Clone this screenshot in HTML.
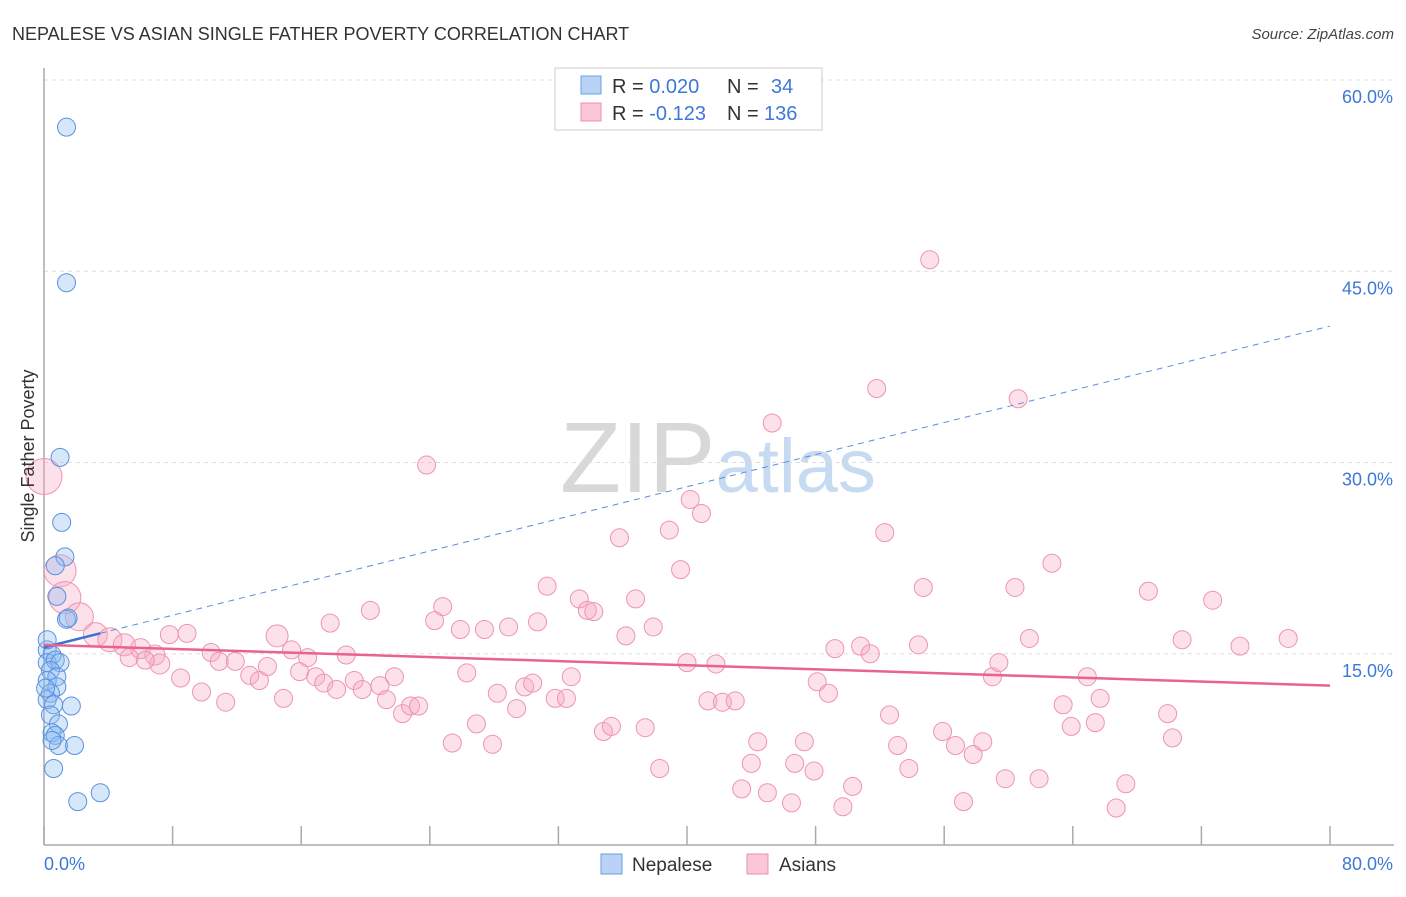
<!DOCTYPE html>
<html><head><meta charset="utf-8">
<style>
body{margin:0;background:#fff;font-family:"Liberation Sans",sans-serif;}
svg text{font-family:"Liberation Sans",sans-serif;}
</style></head>
<body>
<svg id="chart" width="1406" height="892" viewBox="0 0 1406 892" xmlns="http://www.w3.org/2000/svg">
<text x="12" y="40" font-size="18" fill="#333">NEPALESE VS ASIAN SINGLE FATHER POVERTY CORRELATION CHART</text>
<text x="1394" y="39" font-size="15" fill="#444" text-anchor="end" font-style="italic">Source: ZipAtlas.com</text>
<text x="718" y="492" font-size="100" text-anchor="middle" fill="#d8d8d8" font-family="Liberation Serif">ZIP<tspan fill="#c6daf2" font-family="Liberation Sans" font-size="76">atlas</tspan></text>
<g id="grid"></g>
<g id="axes"></g>
<g id="pts"></g>
<g id="trends"></g>
<text transform="translate(34,456) rotate(-90)" font-size="18" fill="#333" text-anchor="middle">Single Father Poverty</text>
<g>
<rect x="555" y="68" width="267" height="62" fill="#fff" stroke="#ccc"/>
<rect x="581" y="76" width="20" height="18" fill="#b9d3f4" stroke="#6a9fe3"/>
<rect x="581" y="103" width="20" height="18" fill="#f9c7d6" stroke="#ec8fae"/>
<text x="612" y="93" font-size="20" fill="#333">R = <tspan fill="#3d78d8">0.020</tspan><tspan x="727">N = </tspan><tspan fill="#3d78d8" x="771">34</tspan></text>
<text x="612" y="120" font-size="20" fill="#333">R = <tspan fill="#3d78d8">-0.123</tspan><tspan x="727">N = </tspan><tspan fill="#3d78d8" x="764">136</tspan></text>
</g>
<g>
<rect x="601" y="854" width="21" height="20" fill="#b9d3f4" stroke="#6a9fe3"/>
<text x="632" y="871" font-size="19" fill="#333">Nepalese</text>
<rect x="747" y="854" width="21" height="20" fill="#f9c7d6" stroke="#ec8fae"/>
<text x="779" y="871" font-size="19" fill="#333">Asians</text>
</g>
</svg>
<script>
const yTicks=[15,30,45,60];
const yTickLabels=["15.0%","30.0%","45.0%","60.0%"];
const xTicks=[0,8,16,24,32,40,48,56,64,72,80];
const xEndLabels=["0.0%","80.0%"];
const blueX=[1.4,1.4,1.0,1.1,1.3,0.7,0.8,1.4,1.5,0.2,0.5,0.2,0.7,1.0,0.4,0.8,0.2,0.8,0.4,0.2,0.6,1.7,0.4,0.9,0.5,0.7,0.9,1.9,0.6,2.1,3.5,0.2,0.1,0.5];
const blueY=[56.3,44.1,30.4,25.3,22.6,21.9,19.5,17.7,17.8,15.3,14.9,14.3,14.5,14.3,13.7,13.2,12.9,12.4,11.9,11.4,11.0,10.9,10.2,9.5,8.8,8.6,7.8,7.8,6.0,3.4,4.1,16.1,12.3,8.2];
const pinkX=[0,1.0,1.3,2.2,3.2,4.1,5.0,6.0,6.9,7.2,5.3,6.3,7.8,8.9,8.5,9.8,11.3,10.4,10.9,11.9,12.8,13.4,13.9,14.5,14.9,15.4,15.9,16.4,16.9,17.4,17.8,18.2,18.8,19.3,19.8,20.3,20.9,21.3,21.8,22.3,22.8,23.3,23.8,24.3,24.8,25.4,25.9,26.3,26.9,27.4,27.9,28.2,28.9,29.4,29.9,30.4,30.7,31.3,31.8,32.5,32.8,33.3,33.8,34.2,34.8,35.3,35.8,36.2,36.8,37.4,37.9,38.3,38.9,39.6,40.0,40.2,40.9,41.3,41.8,42.2,43.0,43.4,44.0,44.4,45.0,45.3,46.5,46.7,47.3,47.9,48.1,48.8,49.2,49.7,50.3,50.8,51.4,51.8,52.3,52.6,53.1,53.8,54.4,54.7,55.1,55.9,56.7,57.2,57.8,58.4,59.0,59.4,59.8,60.4,60.6,61.3,61.9,62.7,63.4,63.9,64.9,65.4,65.7,66.7,67.3,68.7,69.9,70.2,70.8,72.7,74.4,77.4];
const pinkY=[28.9,21.5,19.4,17.9,16.5,16.1,15.7,15.4,14.9,14.2,14.7,14.5,16.5,16.6,13.1,12.0,11.2,15.1,14.4,14.4,13.3,12.9,14.0,16.4,11.5,15.3,13.6,14.7,13.2,12.7,17.4,12.2,14.9,12.9,12.2,18.4,12.5,11.4,13.2,10.3,10.9,10.9,29.8,17.6,18.7,8.0,16.9,13.5,9.5,16.9,7.9,11.9,17.1,10.7,12.4,12.7,17.5,20.3,11.5,11.5,13.2,19.3,18.4,18.3,8.9,9.3,24.1,16.4,19.3,9.2,17.1,6.0,24.7,21.6,14.3,27.1,26.0,11.3,14.2,11.2,11.3,4.4,6.4,8.1,4.1,33.1,3.3,6.4,8.1,5.8,12.8,11.9,15.4,3.0,4.6,15.6,15.0,35.8,24.5,10.2,7.8,6.0,15.7,20.2,45.9,8.9,7.8,3.4,7.1,8.1,13.2,14.3,5.2,20.2,35.0,16.2,5.2,22.1,11.0,9.3,13.2,9.6,11.5,2.9,4.8,19.9,10.3,8.4,16.1,19.2,15.6,16.2];
const pinkWeight=[18,16,16,14,12,12,11,10,10,10,9,9,9,9,9,9,9,9,9,9,9,9,9,11];
const blueTrend=[15.5,40.7];
const pinkTrend=[15.7,12.5];

const X0=44,X1=1330,Y0=845,PXPER=(845-80)/60;
const sx=v=>X0+(v/80)*(X1-X0);
const sy=v=>Y0-v*PXPER;
const NS="http://www.w3.org/2000/svg";
function mk(tag,attrs,parent){const e=document.createElementNS(NS,tag);for(const k in attrs)e.setAttribute(k,attrs[k]);parent.appendChild(e);return e;}
const grid=document.getElementById('grid'),axes=document.getElementById('axes'),pts=document.getElementById('pts'),tr=document.getElementById('trends');
yTicks.forEach((t,i)=>{
  const l=mk('line',{x1:X0,x2:1394,y1:sy(t),y2:sy(t),stroke:'#ddd','stroke-dasharray':'4,4'},grid);
  
  
  const tx=mk('text',{x:1393,y:sy(t)+23,'font-size':18,fill:'#3d78d8','text-anchor':'end'},axes);
  tx.textContent=yTickLabels[i];
  
  
});
const yax=mk('line',{x1:X0,x2:X0,y1:68,y2:Y0,stroke:'#aaa','stroke-width':1.5},axes);


const xax=mk('line',{x1:X0,x2:1394,y1:Y0,y2:Y0,stroke:'#aaa','stroke-width':1.5},axes);


xTicks.forEach(t=>{
  const l=mk('line',{x1:sx(t),x2:sx(t),y1:826,y2:Y0,stroke:'#aaa','stroke-width':1.5},axes);
  
  
});
const xl0=mk('text',{x:44,y:870,'font-size':18,fill:'#3d78d8'},axes);xl0.textContent=xEndLabels[0];


const xl1=mk('text',{x:1393,y:870,'font-size':18,fill:'#3d78d8','text-anchor':'end'},axes);xl1.textContent=xEndLabels[1];


pinkX.forEach((v,i)=>{
  const c=mk('circle',{cx:sx(v),cy:sy(pinkY[i]),r:pinkWeight[i]||9,fill:'rgba(246,170,195,0.35)',stroke:'#ee94b2','stroke-width':1},pts);
  
  
});
blueX.forEach((v,i)=>{
  const c=mk('circle',{cx:sx(v),cy:sy(blueY[i]),r:9,fill:'rgba(140,185,240,0.35)',stroke:'#5a92de','stroke-width':1},pts);
  
  
});
const bAt=x=>blueTrend[0]+(blueTrend[1]-blueTrend[0])*x/80;
const bl=mk('line',{x1:sx(0),y1:sy(bAt(0)),x2:sx(3.5),y2:sy(bAt(3.5)),stroke:'#3a72d4','stroke-width':2.5},tr);


const bd=mk('line',{x1:sx(3.5),y1:sy(bAt(3.5)),x2:sx(80),y2:sy(bAt(80)),stroke:'#5a8fdc','stroke-width':1,'stroke-dasharray':'6,5'},tr);


const pl=mk('line',{x1:sx(0),y1:sy(pinkTrend[0]),x2:sx(80),y2:sy(pinkTrend[1]),stroke:'#e8638f','stroke-width':2.5},tr);


</script>
</body></html>
